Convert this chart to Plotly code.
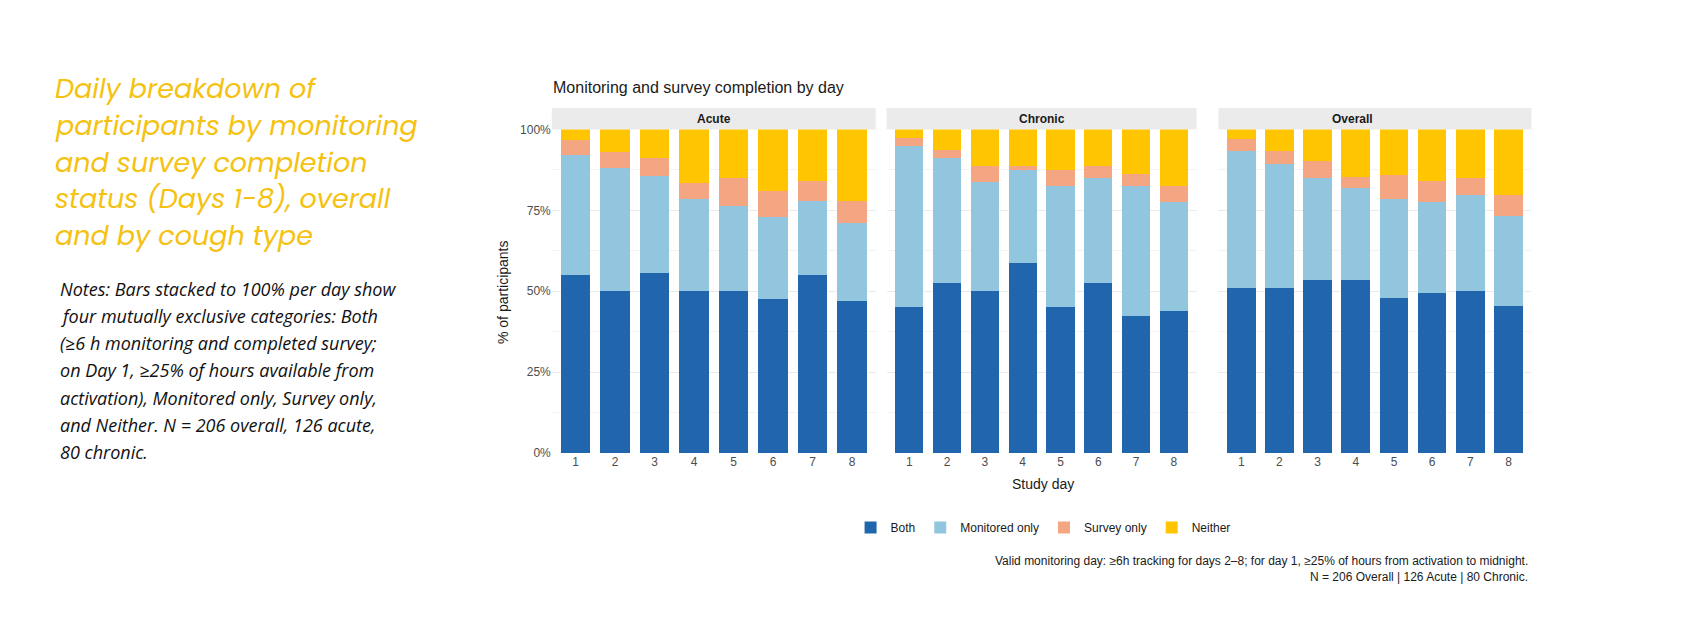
import plotly.graph_objects as go

days = [1, 2, 3, 4, 5, 6, 7, 8]
panels = ["Acute", "Chronic", "Overall"]
categories = ["Both", "Monitored only", "Survey only", "Neither"]
colors = ["#2166AC", "#92C5DE", "#F4A582", "#FFC500"]

# percentage of participants per category, per panel
acute_both = [55.0, 50.0, 55.6, 50.0, 50.0, 47.6, 55.0, 47.0]
acute_mon = [37.0, 38.2, 30.1, 28.6, 26.2, 25.4, 22.8, 24.0]
acute_surv = [4.8, 4.7, 5.6, 4.7, 8.7, 8.0, 6.3, 6.8]
acute_neither = [3.2, 7.1, 8.7, 16.7, 15.1, 19.0, 15.9, 22.2]

chronic_both = [45.0, 52.5, 50.0, 58.75, 45.0, 52.5, 42.5, 43.75]
chronic_mon = [50.0, 38.75, 33.75, 28.75, 37.5, 32.5, 40.0, 33.75]
chronic_surv = [2.5, 2.5, 5.0, 1.25, 5.0, 3.75, 3.75, 5.0]
chronic_neither = [2.5, 6.25, 11.25, 11.25, 12.5, 11.25, 13.75, 17.5]

overall_both = [51.0, 51.0, 53.4, 53.4, 48.0, 49.5, 50.0, 45.6]
overall_mon = [42.2, 38.3, 31.6, 28.6, 30.6, 28.2, 29.6, 27.7]
overall_surv = [3.9, 3.9, 5.3, 3.4, 7.4, 6.3, 5.4, 6.3]
overall_neither = [2.9, 6.8, 9.7, 14.6, 14.0, 16.0, 15.0, 20.4]

data = {
    "Acute": [acute_both, acute_mon, acute_surv, acute_neither],
    "Chronic": [chronic_both, chronic_mon, chronic_surv, chronic_neither],
    "Overall": [overall_both, overall_mon, overall_surv, overall_neither],
}

W, H = 1684, 634
domains = [(549, 876), (887, 1200), (1222, 1538)]
y0, y1 = 1 - 448 / H, 1 - 117 / H

fig = go.Figure()
for i, p in enumerate(panels):
    ax = "" if i == 0 else str(i + 1)
    for j, c in enumerate(categories):
        fig.add_trace(go.Bar(
            x=days, y=data[p][j], name=c, marker_color=colors[j],
            marker_line_width=0, width=0.75, showlegend=(i == 0),
            xaxis="x" + ax, yaxis="y" + ax, legendgroup=c,
        ))
    d = domains[i]
    fig.layout["xaxis" + ax] = dict(
        domain=[d[0] / W, d[1] / W], anchor="y" + ax, tickvals=days,
        range=[0.4, 8.6], showgrid=False, ticks="",
        tickfont=dict(size=12, color="#4d4d4d"),
    )
    fig.layout["yaxis" + ax] = dict(
        domain=[y0, y1], anchor="x" + ax, range=[0, 100],
        tickvals=[0, 25, 50, 75, 100], ticktext=["0%", "25%", "50%", "75%", "100%"],
        showticklabels=(i == 0), gridcolor="#ebebeb", zeroline=False,
        tickfont=dict(size=12, color="#4d4d4d"),
        minor=dict(tickvals=[12.5, 37.5, 62.5, 87.5], showgrid=True, gridcolor="#f3f3f3"),
    )
    fig.add_shape(type="rect", xref="paper", yref="paper",
                  x0=d[0] / W, x1=d[1] / W, y0=y1, y1=1 - 95 / H,
                  fillcolor="#ebebeb", line_width=0, layer="below")
    fig.add_annotation(text="<b>" + p + "</b>", xref="paper", yref="paper",
                       x=(d[0] + d[1]) / 2 / W, y=1 - 106 / H, showarrow=False,
                       yanchor="middle", font=dict(size=12, color="#1a1a1a"))

fig.update_layout(
    barmode="stack", bargap=0.25,
    autosize=True, margin=dict(l=0, r=0, t=0, b=0),
    plot_bgcolor="white", paper_bgcolor="white",
    font=dict(family="Liberation Sans, Arial", color="#1a1a1a"),
    legend=dict(orientation="h", x=1045 / W, xanchor="center", y=1 - 524 / H, yanchor="middle",
                font=dict(size=12), itemwidth=30, tracegroupgap=10),
)

ann = [
    dict(text="Monitoring and survey completion by day", x=548, y=74, size=16, anchor="left"),
    dict(text="% of participants", x=500, y=283, size=14, anchor="center", angle=-90),
    dict(text="Study day", x=1045, y=480, size=14, anchor="center"),
    dict(text="Valid monitoring day: ≥6h tracking for days 2–8; for day 1, ≥25% of hours from activation to midnight.",
         x=1537, y=558, size=12, anchor="right"),
    dict(text="N = 206 Overall | 126 Acute | 80 Chronic.", x=1537, y=575, size=12, anchor="right"),
]
for a in ann:
    fig.add_annotation(text=a["text"], xref="paper", yref="paper", x=a["x"] / W, y=1 - a["y"] / H,
                       xanchor=a["anchor"], yanchor="middle", showarrow=False,
                       textangle=a.get("angle", 0), font=dict(size=a["size"], color="#1a1a1a"))

title_lines = ["Daily breakdown of", "participants by monitoring", "and survey completion",
               "status (Days 1-8), overall", "and by cough type"]
for k, t in enumerate(title_lines):
    fig.add_annotation(text="<i>" + t + "</i>", xref="paper", yref="paper", x=45 / W,
                       y=1 - (75 + 37.7 * k) / H, xanchor="left", yanchor="middle",
                       showarrow=False, font=dict(size=27, color="#F5C211", family="Poppins, Lato"))

note_lines = ["Notes: Bars stacked to 100% per day show", "four mutually exclusive categories: Both",
              "(≥6 h monitoring and completed survey;", "on Day 1, ≥25% of hours available from",
              "activation), Monitored only, Survey only,", "and Neither. N = 206 overall, 126 acute,",
              "80 chronic."]
for k, t in enumerate(note_lines):
    fig.add_annotation(text="<i>" + t + "</i>", xref="paper", yref="paper", x=50 / W,
                       y=1 - (280 + 27.8 * k) / H, xanchor="left", yanchor="middle",
                       showarrow=False, font=dict(size=18, color="#111111", family="Open Sans"))

fig.write_html("out.html", default_width="100%", default_height="100vh")
